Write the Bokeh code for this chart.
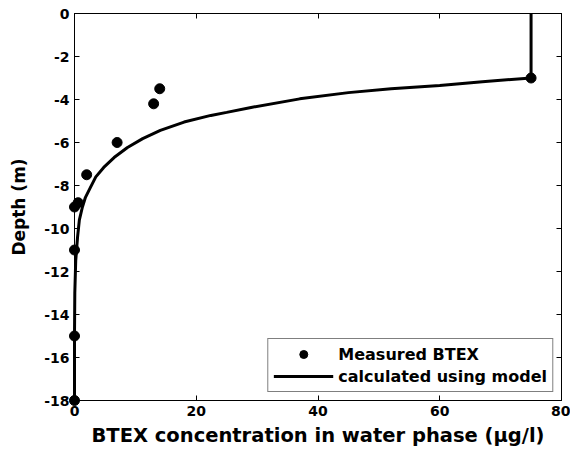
from bokeh.plotting import figure
from bokeh.models import LinearAxis, Legend, LegendItem, FixedTicker, Range1d
from bokeh.embed import file_html
from bokeh.resources import INLINE

# Measured BTEX (concentration, depth)
meas_x = [75, 14, 13, 7, 2, 0.6, 0, 0, 0, 0]
meas_y = [-3, -3.5, -4.2, -6, -7.5, -8.8, -9, -11, -15, -18]

# Model curve
model_x = [75, 75, 67, 60, 52, 45, 37, 29, 25, 22.4, 18, 14.1, 11.2, 8.7, 6.5, 4.8,
           3.5, 2.6, 1.8, 1.3, 0.8, 0.5, 0.2, 0.05, 0, 0]
model_y = [0, -3, -3.17, -3.35, -3.5, -3.68, -3.97, -4.37, -4.6, -4.74, -5.05, -5.44, -5.82, -6.23, -6.7, -7.16,
           -7.6, -8.1, -8.55, -9.0, -9.6, -10.4, -11.5, -13, -15, -18]

x_ticks = [0, 20, 40, 60, 80]
y_ticks = [0, -2, -4, -6, -8, -10, -12, -14, -16, -18]

FONT = "DejaVu Sans"

p = figure(width=570, height=450, output_backend="svg", toolbar_location=None,
           x_range=Range1d(0, 80), y_range=Range1d(-18, 0),
           min_border_left=74, min_border_right=9, min_border_top=13, min_border_bottom=50,
           background_fill_color="white", border_fill_color="white")
p.outline_line_color = "black"
p.outline_line_width = 1
p.grid.visible = False

line_r = p.line(model_x, model_y, line_color="black", line_width=3, level="overlay")
pts_r = p.scatter(meas_x, meas_y, marker="circle", size=10, fill_color="black",
                  line_color="black", level="overlay")

for ax in (p.xaxis[0], p.yaxis[0]):
    ax.major_tick_in = 5
    ax.major_tick_out = 0
    ax.minor_tick_in = 0
    ax.minor_tick_out = 0
    ax.axis_line_color = "black"
    ax.major_tick_line_color = "black"
    ax.major_label_text_font = FONT
    ax.major_label_text_font_style = "bold"
    ax.major_label_text_font_size = "14px"
    ax.major_label_text_color = "black"
    ax.axis_label_text_font = FONT
    ax.axis_label_text_font_style = "bold"
    ax.axis_label_text_color = "black"

p.xaxis[0].ticker = FixedTicker(ticks=x_ticks)
p.yaxis[0].ticker = FixedTicker(ticks=y_ticks)
p.xaxis[0].major_label_overrides = {t: str(t) for t in x_ticks}
p.yaxis[0].major_label_overrides = {t: str(t) for t in y_ticks}
p.xaxis[0].axis_label = "BTEX concentration in water phase (\u03bcg/l)"
p.yaxis[0].axis_label = "Depth (m)"
p.xaxis[0].axis_label_text_font_size = "19.5px"
p.yaxis[0].axis_label_text_font_size = "17px"
p.xaxis[0].major_label_standoff = 5
p.yaxis[0].major_label_standoff = 5
p.xaxis[0].axis_label_standoff = 5
p.yaxis[0].axis_label_standoff = 12

# mirrored ticks on top and right
top_ax = LinearAxis(ticker=FixedTicker(ticks=x_ticks))
right_ax = LinearAxis(ticker=FixedTicker(ticks=y_ticks))
for ax in (top_ax, right_ax):
    ax.major_tick_in = 5
    ax.major_tick_out = 0
    ax.minor_tick_in = 0
    ax.minor_tick_out = 0
    ax.major_label_text_font_size = "0px"
    ax.major_label_text_color = None
    ax.major_label_standoff = 0
    ax.axis_line_color = "black"
p.add_layout(top_ax, "above")
p.add_layout(right_ax, "right")

legend = Legend(items=[LegendItem(label="Measured BTEX", renderers=[pts_r]),
                       LegendItem(label="calculated using model", renderers=[line_r])],
                location="bottom_right")
legend.label_text_font = FONT
legend.label_text_font_style = "bold"
legend.label_text_font_size = "16px"
legend.label_text_color = "black"
legend.border_line_color = "black"
legend.border_line_width = 1
legend.glyph_width = 60
legend.glyph_height = 20
legend.label_height = 20
legend.label_standoff = 5
legend.spacing = 2
legend.padding = 5
legend.margin = 8
legend.background_fill_alpha = 1
p.add_layout(legend)

open("out.html", "w").write(file_html(p, INLINE))
